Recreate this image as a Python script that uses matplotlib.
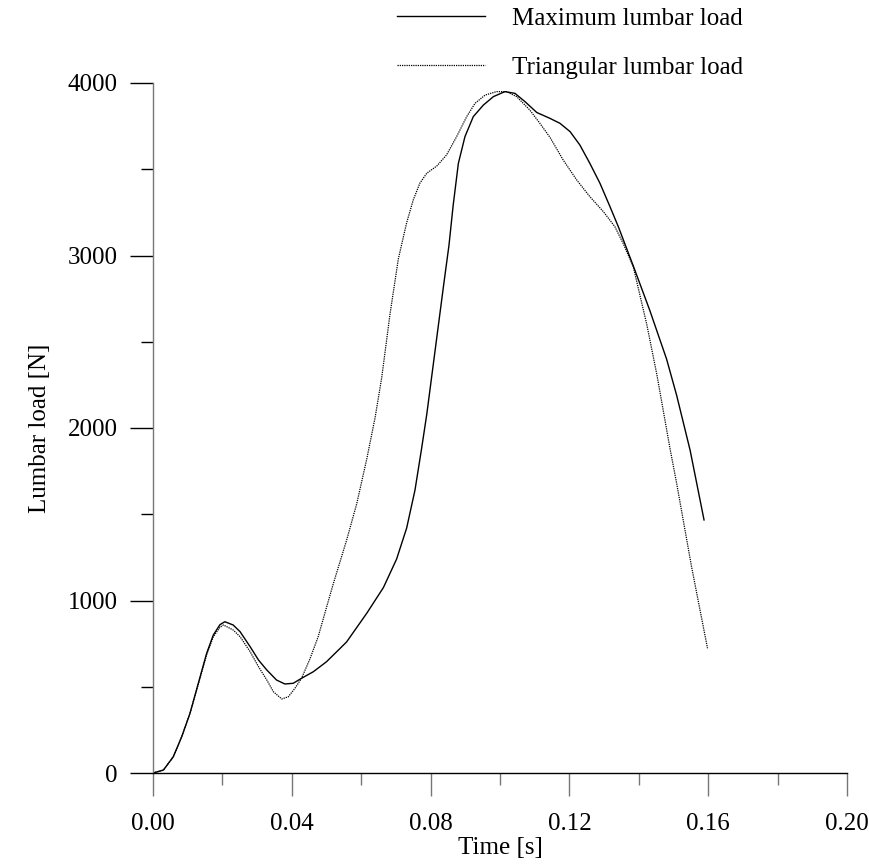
import matplotlib
matplotlib.use("Agg")
import matplotlib.pyplot as plt
from matplotlib.ticker import MultipleLocator

plt.rcParams['font.family'] = ['Liberation Serif', 'DejaVu Serif']

# Maximum lumbar load (solid)
time_max = [0.0, 0.003, 0.00585, 0.00827, 0.01066, 0.01306, 0.01546, 0.01738,
            0.0193, 0.0207, 0.0231, 0.0251, 0.028, 0.0304, 0.0328, 0.0356,
            0.038, 0.0404, 0.0428, 0.0462, 0.05, 0.0539, 0.0558, 0.0616,
            0.0664, 0.0702, 0.0731, 0.0755, 0.0774, 0.0789, 0.0813, 0.0837,
            0.0853, 0.0865, 0.088, 0.0899, 0.0923, 0.0952, 0.0981, 0.1014,
            0.1043, 0.1072, 0.1106, 0.1144, 0.1173, 0.1202, 0.123, 0.1259,
            0.1288, 0.1317, 0.1341, 0.1384, 0.1432, 0.148, 0.1509, 0.1548,
            0.1588]
load_max = [0, 17, 94, 210, 346, 520, 694, 800,
            860, 877, 858, 819, 732, 655, 597, 539,
            516, 520, 549, 587, 645, 722, 760, 926,
            1075, 1240, 1420, 1640, 1880, 2080, 2450, 2820,
            3060, 3290, 3534, 3689, 3805, 3872, 3921, 3950,
            3940, 3892, 3829, 3795, 3766, 3718, 3641, 3534,
            3419, 3283, 3167, 2940, 2680, 2400, 2190, 1870,
            1467]

# Triangular lumbar load (dotted)
time_tri = [0.0, 0.003, 0.00585, 0.00827, 0.01066, 0.01306, 0.01546, 0.01738,
            0.0193, 0.0203, 0.0231, 0.0251, 0.028, 0.0304, 0.0328, 0.0347,
            0.0371, 0.039, 0.0409, 0.0428, 0.0452, 0.0476, 0.05, 0.052,
            0.0558, 0.0587, 0.0616, 0.064, 0.0659, 0.0683, 0.0707, 0.0731,
            0.075, 0.0769, 0.0789, 0.0818, 0.0846, 0.0875, 0.0904, 0.0928,
            0.0957, 0.099, 0.1019, 0.1048, 0.1086, 0.1115, 0.1144, 0.1182,
            0.1221, 0.1259, 0.1298, 0.1331, 0.1355, 0.1384, 0.1423, 0.1452,
            0.149, 0.1509, 0.1552, 0.1598]
load_tri = [0, 17, 94, 210, 346, 515, 685, 790,
            845, 858, 829, 790, 703, 616, 539, 471,
            429, 442, 491, 549, 660, 790, 960, 1100,
            1350, 1560, 1820, 2060, 2290, 2660, 2980, 3190,
            3322, 3419, 3477, 3519, 3583, 3689, 3805, 3882,
            3930, 3950, 3950, 3921, 3843, 3766, 3685, 3554,
            3438, 3341, 3254, 3167, 3070, 2935, 2600, 2310,
            1880, 1680, 1196, 723]

x_ticks = [0.00, 0.04, 0.08, 0.12, 0.16, 0.20]
x_ticklabels = ['0.00', '0.04', '0.08', '0.12', '0.16', '0.20']
y_ticks = [0, 1000, 2000, 3000, 4000]
y_ticklabels = ['0', '1000', '2000', '3000', '4000']

fig = plt.figure(figsize=(8.7, 8.64), dpi=100)
ax = fig.add_axes([153/870, 1-773/864, (847-153)/870, (773-83)/864])

ax.plot(time_max, load_max, color='black', lw=1.0, solid_joinstyle='round',
        label='Maximum lumbar load')
ax.plot(time_tri, load_tri, color='black', lw=0.9, linestyle=(0, (1, 0.8)),
        label='Triangular lumbar load')

ax.set_xlim(0, 0.20)
ax.set_ylim(0, 4000)
ax.set_xticks(x_ticks)
ax.set_xticklabels(x_ticklabels)
ax.set_yticks(y_ticks)
ax.set_yticklabels(y_ticklabels)
ax.xaxis.set_minor_locator(MultipleLocator(0.02))
ax.yaxis.set_minor_locator(MultipleLocator(500))

for s in ['top', 'right']:
    ax.spines[s].set_visible(False)
ax.spines['left'].set_color('#777777')
ax.spines['bottom'].set_color('black')
ax.spines['left'].set_linewidth(1.0)
ax.spines['bottom'].set_linewidth(1.0)

ax.tick_params(axis='x', which='major', direction='out', length=16.5, width=1.0,
               color='#777777', labelsize=18, pad=12)
ax.tick_params(axis='x', which='minor', direction='out', length=8.5, width=1.0,
               color='#777777')
ax.tick_params(axis='y', which='major', direction='out', length=16.5, width=1.0,
               color='black', labelsize=18, pad=9)
ax.tick_params(axis='y', which='minor', direction='out', length=8.5, width=1.0,
               color='black')

ax.set_xlabel('Time [s]', fontsize=18, labelpad=2)
ax.set_ylabel('Lumbar load [N]', fontsize=18, labelpad=12)

leg = ax.legend(loc='upper left', bbox_to_anchor=(390/870, 1-0/864),
                bbox_transform=fig.transFigure, frameon=False, fontsize=18,
                handlelength=3.5, handletextpad=1.1, labelspacing=1.05,
                borderaxespad=0, borderpad=0.3)

fig.savefig('out.png', dpi=100)
